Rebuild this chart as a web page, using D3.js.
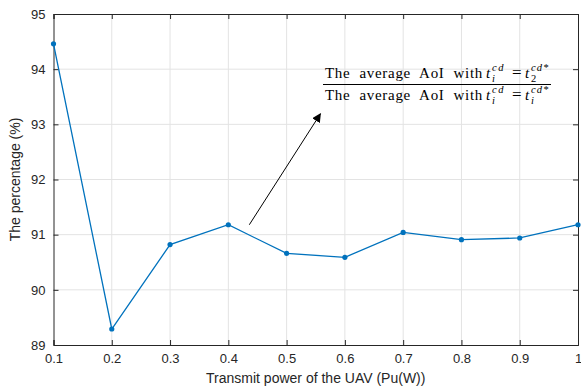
<!DOCTYPE html>
<html>
<head>
<meta charset="utf-8">
<script src="https://cdn.jsdelivr.net/npm/d3@7"></script>
<style>
  body { margin: 0; background: #fff; }
  svg { display: block; }
</style>
</head>
<body>
<svg id="chart" width="581" height="389"></svg>
<script>
// data
var powers = [0.1, 0.2, 0.3, 0.4, 0.5, 0.6, 0.7, 0.8, 0.9, 1.0];
var percentages = [94.46, 89.29, 90.82, 91.18, 90.66, 90.59, 91.04, 90.91, 90.94, 91.18];
var xTicks = [0.1, 0.2, 0.3, 0.4, 0.5, 0.6, 0.7, 0.8, 0.9, 1];
var yTicks = [89, 90, 91, 92, 93, 94, 95];
var arrowFrom = [0.436, 91.18];
var arrowTo = [0.558, 93.19];

var svg = d3.select('#chart');
var margin = { top: 14, right: 3, bottom: 44, left: 53.5 };
var width = 581 - margin.left - margin.right;
var height = 389 - margin.top - margin.bottom;

var g = svg.append('g').attr('transform', 'translate(' + margin.left + ',' + margin.top + ')');

var x = d3.scaleLinear().domain([0.1, 1]).range([0, width]);
var y = d3.scaleLinear().domain([89, 95]).range([height, 0]);

var axisColor = '#262626';
var tickFont = 'Liberation Sans, Arial, sans-serif';

// grid
g.append('g').selectAll('line').data(xTicks.slice(1, -1)).enter().append('line')
  .attr('x1', function (d) { return x(d); }).attr('x2', function (d) { return x(d); })
  .attr('y1', 0).attr('y2', height)
  .attr('stroke', '#e3e3e3').attr('stroke-width', 1);
g.append('g').selectAll('line').data(yTicks.slice(1, -1)).enter().append('line')
  .attr('y1', function (d) { return y(d); }).attr('y2', function (d) { return y(d); })
  .attr('x1', 0).attr('x2', width)
  .attr('stroke', '#e3e3e3').attr('stroke-width', 1);

// axes
var xAxis = g.append('g').attr('transform', 'translate(0,' + height + ')')
  .call(d3.axisBottom(x).tickValues(xTicks).tickSize(-5).tickPadding(9)
    .tickFormat(function (d) { return d === 1 ? '1' : d3.format('.1f')(d); }));
var yAxis = g.append('g')
  .call(d3.axisLeft(y).tickValues(yTicks).tickSize(-5).tickPadding(8).tickFormat(d3.format('d')));
var xTop = g.append('g')
  .call(d3.axisTop(x).tickValues(xTicks).tickSize(-5).tickFormat(''));
var yRight = g.append('g').attr('transform', 'translate(' + width + ',0)')
  .call(d3.axisRight(y).tickValues(yTicks).tickSize(-5).tickFormat(''));

[xAxis, yAxis, xTop, yRight].forEach(function (a) {
  a.select('.domain').attr('stroke', axisColor).attr('stroke-width', 1);
  a.selectAll('.tick line').attr('stroke', axisColor);
  a.selectAll('.tick text').attr('fill', axisColor).style('font-family', tickFont).style('font-size', '13px');
});

// line + markers
var line = d3.line()
  .x(function (d, i) { return x(powers[i]); })
  .y(function (d) { return y(d); });

g.append('path').datum(percentages)
  .attr('d', line)
  .attr('fill', 'none')
  .attr('stroke', '#0072BD')
  .attr('stroke-width', 1.3);

g.selectAll('.pt').data(percentages).enter().append('circle')
  .attr('class', 'pt')
  .attr('cx', function (d, i) { return x(powers[i]); })
  .attr('cy', function (d) { return y(d); })
  .attr('r', 2.6)
  .attr('fill', '#0072BD');

// labels
svg.append('text')
  .attr('x', margin.left + width / 2).attr('y', 383)
  .attr('text-anchor', 'middle')
  .style('font-family', tickFont).style('font-size', '14px')
  .attr('fill', axisColor)
  .text('Transmit power of the UAV (Pu(W))');

svg.append('text')
  .attr('transform', 'translate(20,' + (margin.top + height / 2) + ') rotate(-90)')
  .attr('text-anchor', 'middle')
  .style('font-family', tickFont).style('font-size', '14px')
  .attr('fill', axisColor)
  .text('The percentage (%)');

// arrow
svg.append('defs').append('marker')
  .attr('id', 'arrowhead')
  .attr('viewBox', '0 0 10 10')
  .attr('refX', 9).attr('refY', 5)
  .attr('markerWidth', 9).attr('markerHeight', 9)
  .attr('markerUnits', 'userSpaceOnUse')
  .attr('orient', 'auto')
  .append('path').attr('d', 'M0,0 L10,5 L0,10 Z').attr('fill', '#000');

g.append('line')
  .attr('x1', x(arrowFrom[0])).attr('y1', y(arrowFrom[1]))
  .attr('x2', x(arrowTo[0])).attr('y2', y(arrowTo[1]))
  .attr('stroke', '#000').attr('stroke-width', 1)
  .attr('marker-end', 'url(#arrowhead)');

// fraction annotation (one text element per line, tspans for sub/superscripts)
var serif = 'Liberation Serif, DejaVu Serif, serif';

function mathLine(x0, baseline, sub2, sup2) {
  var t = svg.append('text').attr('x', x0).attr('y', baseline)
    .style('font-family', serif).style('font-size', '15px').attr('fill', '#000');
  var words = t.append('tspan').attr('x', x0).attr('letter-spacing', '0.7px').text('The average AoI with');
  var natural = words.node().getComputedTextLength();
  words.attr('word-spacing', Math.max(0, (158 - natural) / 3) + 'px');
  t.append('tspan').attr('x', x0 + 161).style('font-style', 'italic').text('t');
  t.append('tspan').attr('x', x0 + 167).attr('dy', -7).style('font-style', 'italic')
    .style('font-size', '10.5px').attr('letter-spacing', '1.5px').text('cd');
  t.append('tspan').attr('x', x0 + 167).attr('dy', 11).style('font-style', 'italic')
    .style('font-size', '10.5px').text('i');
  t.append('tspan').attr('x', x0 + 187).attr('dy', -4).style('font-size', '17px').text('=');
  t.append('tspan').attr('x', x0 + 200).style('font-style', 'italic').text('t');
  t.append('tspan').attr('x', x0 + 206).attr('dy', -7).style('font-style', 'italic')
    .style('font-size', '10.5px').attr('letter-spacing', '1px').text(sup2);
  t.append('tspan').attr('x', x0 + 206).attr('dy', 11).style('font-style', sub2 === '2' ? 'normal' : 'italic')
    .style('font-size', '10.5px').text(sub2);
}

mathLine(325, 78, '2', 'cd*');
mathLine(325, 100, 'i', 'cd*');
svg.append('line').attr('x1', 323).attr('x2', 551).attr('y1', 84.5).attr('y2', 84.5)
  .attr('stroke', '#000').attr('stroke-width', 1.2);
</script>
</body>
</html>
